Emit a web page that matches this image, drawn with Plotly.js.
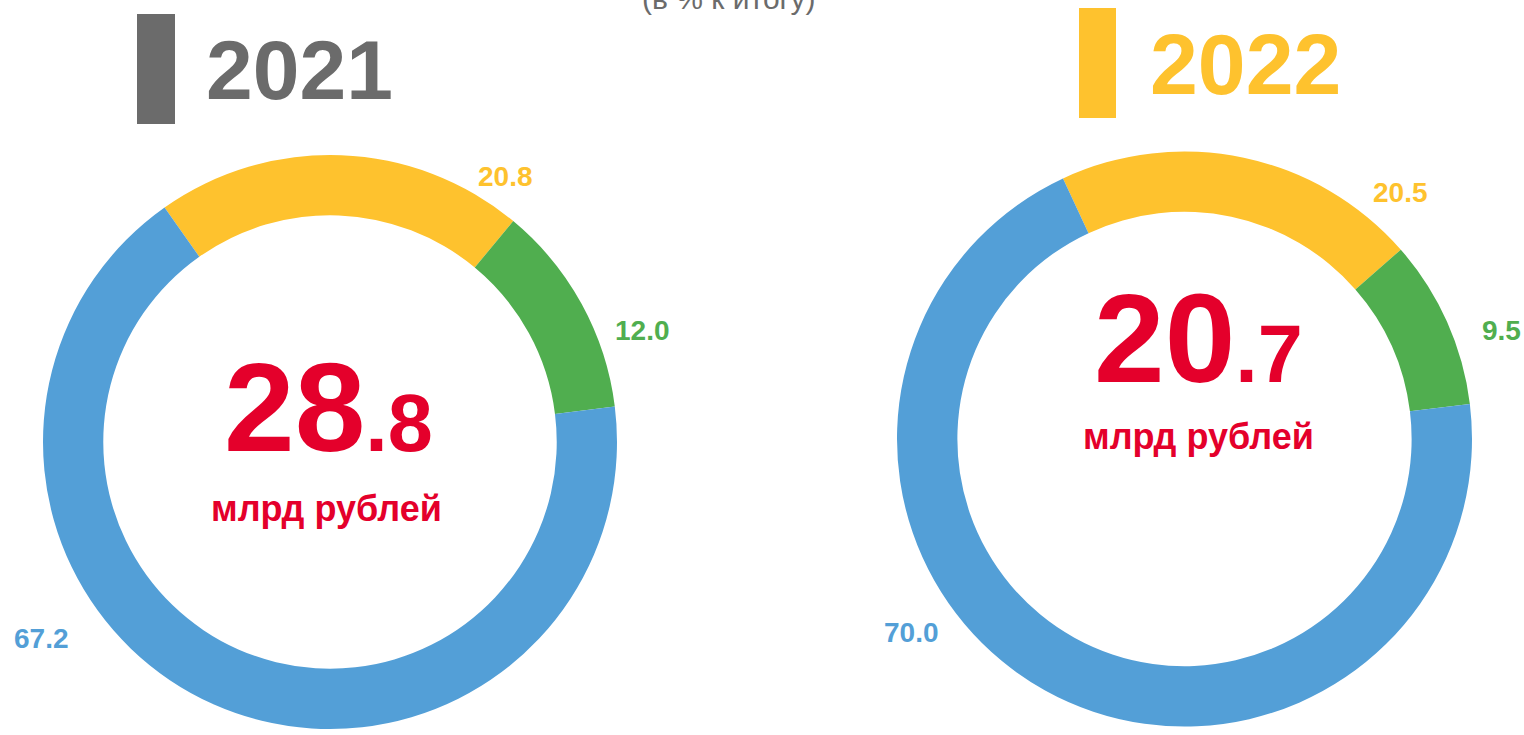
<!DOCTYPE html>
<html>
<head>
<meta charset="utf-8">
<script src="https://cdn.plot.ly/plotly-3.0.1.min.js"></script>
<style>
  html, body { margin: 0; padding: 0; background: #ffffff; }
  #chart { width: 1524px; height: 735px; }
</style>
</head>
<body>
<div id="chart"></div>
<script>
// ---- data ----
const years = ['2021', '2022'];
const categories = ['Группа 1', 'Группа 2', 'Группа 3'];
const values2021 = [20.8, 12.0, 67.2];
const values2022 = [20.5, 9.5, 70.0];
const totals = [28.8, 20.7];
const unitLabel = 'млрд рублей';
const subtitle = '(в % к итогу)';

// ---- styles ----
const W = 1524, H = 735;
const sliceColors = ['#FEC22E', '#50AE4F', '#539FD7'];
const yearColors = ['#6B6B6B', '#FEC22E'];
const red = '#E4002B';
const FONT = 'Liberation Sans, Arial, sans-serif';

const px = v => v / W;
const py = v => 1 - v / H;

const donuts = [
  {vals: values2021, cx: 330, cy: 442, r: 287, rot: -35.2,
   labelPos: [[505, 176], [642, 331], [41, 638]],
   totalPos: [328, 452], unitPos: [326, 508],
   bar: [137, 14, 175, 124], yearPos: [299, 100], yearSize: 84},
  {vals: values2022, cx: 1184.5, cy: 439, r: 287.5, rot: -25,
   labelPos: [[1400, 192], [1501, 331], [911, 632]],
   totalPos: [1198, 383], unitPos: [1198, 437],
   bar: [1079, 8, 1116, 118], yearPos: [1245, 95], yearSize: 86}
];

const traces = [];
const annotations = [];
const shapes = [];

donuts.forEach((d, i) => {
  traces.push({
    type: 'pie',
    values: d.vals,
    labels: categories,
    sort: false,
    direction: 'clockwise',
    rotation: d.rot,
    hole: 0.79,
    textinfo: 'none',
    hoverinfo: 'label+value',
    marker: {colors: sliceColors, line: {width: 0}},
    showlegend: false,
    domain: {
      x: [px(d.cx - d.r), px(d.cx + d.r)],
      y: [py(d.cy + d.r), py(d.cy - d.r)]
    }
  });

  d.vals.forEach((v, k) => {
    annotations.push({
      xref: 'paper', yref: 'paper',
      x: px(d.labelPos[k][0]), y: py(d.labelPos[k][1]),
      xanchor: 'center', yanchor: 'middle',
      text: v.toFixed(1), showarrow: false,
      font: {family: FONT, size: 28, color: sliceColors[k], weight: 700}
    });
  });

  const parts = totals[i].toFixed(1).split('.');
  annotations.push({
    xref: 'paper', yref: 'paper',
    x: px(d.totalPos[0]), y: py(d.totalPos[1]),
    xanchor: 'center', yanchor: 'bottom', yshift: -28,
    text: parts[0] + '<span style="font-size:81px">.' + parts[1] + '</span>',
    showarrow: false,
    font: {family: FONT, size: 127, color: red, weight: 700}
  });
  annotations.push({
    xref: 'paper', yref: 'paper',
    x: px(d.unitPos[0]), y: py(d.unitPos[1]),
    xanchor: 'center', yanchor: 'middle',
    text: unitLabel, showarrow: false,
    font: {family: FONT, size: 36, color: red, weight: 700}
  });

  shapes.push({
    type: 'rect', xref: 'paper', yref: 'paper',
    x0: px(d.bar[0]), x1: px(d.bar[2]), y0: py(d.bar[3]), y1: py(d.bar[1]),
    fillcolor: yearColors[i], line: {width: 0}
  });
  annotations.push({
    xref: 'paper', yref: 'paper',
    x: px(d.yearPos[0]), y: py(d.yearPos[1]),
    xanchor: 'center', yanchor: 'bottom', yshift: -19,
    text: years[i], showarrow: false,
    font: {family: FONT, size: d.yearSize, color: yearColors[i], weight: 700}
  });
});

annotations.push({
  xref: 'paper', yref: 'paper',
  x: px(729), y: py(10),
  xanchor: 'center', yanchor: 'bottom', yshift: -7,
  text: subtitle, showarrow: false,
  font: {family: FONT, size: 30, color: '#6B6B6B'}
});

const layout = {
  width: W, height: H,
  margin: {l: 0, r: 0, t: 0, b: 0},
  paper_bgcolor: '#ffffff',
  plot_bgcolor: '#ffffff',
  showlegend: false,
  annotations: annotations,
  shapes: shapes
};

Plotly.newPlot('chart', traces, layout, {displayModeBar: false, staticPlot: true});
</script>
</body>
</html>
